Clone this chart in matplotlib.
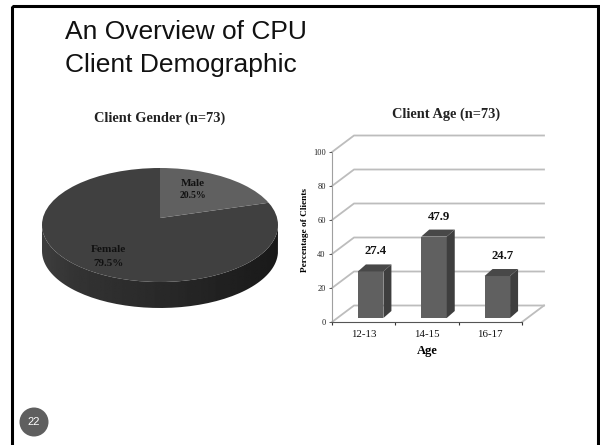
import numpy as np
import matplotlib.pyplot as plt
from matplotlib.patches import Ellipse, Polygon, Circle, Rectangle, PathPatch
from matplotlib.path import Path

gender_labels = ['Female', 'Male']
gender_values = [79.5, 20.5]
age_labels = ['12-13', '14-15', '16-17']
age_values = [27.4, 47.9, 24.7]
y_ticks = [0, 20, 40, 60, 80, 100]

serif = 'Liberation Serif'
W, H = 600, 445

fig = plt.figure(figsize=(6, 4.45), dpi=100)
bg = fig.add_axes([0, 0, 1, 1])
bg.set_xlim(0, W)
bg.set_ylim(H, 0)
bg.axis('off')

# slide frame
bg.add_patch(Rectangle((11.5, 6), 586, 460, fill=False, ec='black', lw=2.2))
bg.text(65, 32, 'An Overview of CPU', fontsize=19, family='Liberation Sans', va='center', color='#111111')
bg.text(65, 65, 'Client Demographic', fontsize=19, family='Liberation Sans', va='center', color='#111111')
bg.add_patch(Circle((34, 422), 14.5, fc='#5f5f5f', ec='none'))
bg.text(34, 422, '22', fontsize=8, color='white', family='Liberation Sans', ha='center', va='center')

bg.text(160, 118, 'Client Gender (n=73)', fontsize=10.4, family=serif, weight='bold', ha='center', va='center', color='#222222')
bg.text(446, 114, 'Client Age (n=73)', fontsize=10.4, family=serif, weight='bold', ha='center', va='center', color='#222222')

# pie: flattened axes, the top ellipse spans x 42-278, y 168-282
pie_ax = fig.add_axes([42 / W, 1 - 282 / H, 236 / W, 114 / H])
wedges, _ = pie_ax.pie(gender_values, startangle=90, center=(0, 0.123),
                       radius=1.5, colors=['#404040', '#606060'])
pie_ax.set_aspect('auto')
pie_ax.set_xlim(-1, 1)
pie_ax.set_ylim(-1, 1)
pie_ax.axis('off')
top = Ellipse((0, 0), 2, 2, transform=pie_ax.transData, fc='none', ec='none')
pie_ax.add_patch(top)
for w in wedges:
    w.set_clip_on(True)
    w.set_clip_path(top)

# pie side wall with a dark gradient
t = np.linspace(np.pi, 2 * np.pi, 80)
sx = 160 + 118 * np.cos(t)
sy = 225 - 57 * np.sin(t)
side = np.vstack([np.column_stack([sx, sy]), np.column_stack([sx[::-1], sy[::-1] + 26])])
side_patch = PathPatch(Path(side), fc='none', ec='none')
bg.add_patch(side_patch)
grad = np.interp(np.linspace(0, 1, 200), [0, 0.15, 0.6, 1], [0.24, 0.2, 0.15, 0.1]).reshape(1, -1)
im = bg.imshow(grad, extent=(42, 278, 310, 225), cmap='gray', vmin=0, vmax=1, aspect='auto', zorder=1)
im.set_clip_path(side_patch)
bg.set_xlim(0, W)
bg.set_ylim(H, 0)

pie_ax.text(193, 183, 'Male', fontsize=8, family=serif, weight='bold', ha='center', va='center', color='#111111', transform=bg.transData)
pie_ax.text(193, 196, '20.5%', fontsize=7, family=serif, weight='bold', ha='center', va='center', color='#111111', transform=bg.transData)
pie_ax.text(108, 249, 'Female', fontsize=8.2, family=serif, weight='bold', ha='center', va='center', color='#111111', transform=bg.transData)
pie_ax.text(108, 263, '79.5%', fontsize=8, family=serif, weight='bold', ha='center', va='center', color='#111111', transform=bg.transData)

# bar chart: axes is the front plane of the 3d box
ax = fig.add_axes([332 / W, 1 - 322 / H, 190 / W, 170 / H])
ax.patch.set_alpha(0)
ax.set_xlim(0, 3)
ax.set_ylim(0, 100)
px = 3 / 190
py = 100 / 170
back_x, back_y = 22 * px, 16.5 * py

for v in y_ticks:
    ax.plot([0, back_x, 3 + back_x], [v, v + back_y, v + back_y], color='#bdbdbd', lw=1.3, clip_on=False, zorder=1)
ax.plot([3, 3 + back_x], [0, back_y], color='#bdbdbd', lw=1.3, clip_on=False, zorder=1)

pos = np.arange(3) + 0.5 + 7 * px
floor = 4 * py
bw = 25.5 * px
dep_x, dep_y = 8 * px, 7 * py
ax.bar(pos, age_values, width=bw, bottom=floor, color='#606060', zorder=3)
for x, v in zip(pos, age_values):
    l, r, b, tp = x - bw / 2, x + bw / 2, floor, floor + v
    ax.add_patch(Polygon([(r, b), (r + dep_x, b + dep_y), (r + dep_x, tp + dep_y), (r, tp)], fc='#3e3e3e', ec='none', zorder=3))
    ax.add_patch(Polygon([(l, tp), (l + dep_x, tp + dep_y), (r + dep_x, tp + dep_y), (r, tp)], fc='#484848', ec='none', zorder=3))
    ax.text(x + 5 * px, tp + 20 * py, f'{v:.1f}', fontsize=9.2, family=serif, weight='bold', ha='center', va='center', color='#111111')

for s in ['top', 'right']:
    ax.spines[s].set_visible(False)
ax.spines['left'].set_color('#a0a0a0')
ax.spines['bottom'].set_color('#555555')
ax.set_yticks(y_ticks)
ax.set_yticklabels(y_ticks, fontsize=6, family=serif, color='#222222')
ax.set_xticks([0, 1, 2, 3])
ax.set_xticklabels([])
ax.set_xticks([0.5, 1.5, 2.5], minor=True)
ax.set_xticklabels(age_labels, minor=True, fontsize=7.8, family=serif, color='#111111')
ax.tick_params(axis='x', which='minor', length=0, pad=6)
ax.tick_params(axis='x', which='major', length=2.5, width=0.8, color='#333333')
ax.tick_params(axis='y', length=2, width=0.7, color='#555555', pad=2.5)
ax.set_ylabel('Percentage of Clients', fontsize=6.7, family=serif, weight='bold')
ax.yaxis.set_label_coords(-23 / 190, 92 / 170)
ax.set_xlabel('Age', fontsize=9, family=serif, weight='bold', labelpad=4)

fig.savefig('out.png', dpi=100)
